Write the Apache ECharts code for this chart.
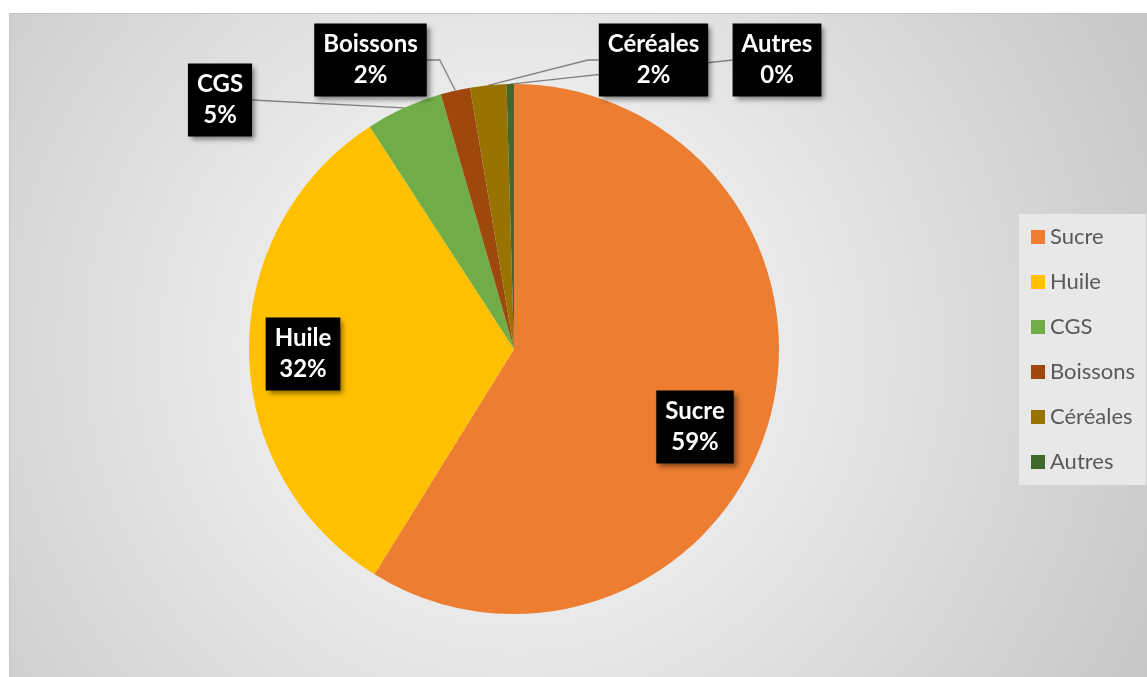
<!DOCTYPE html>
<html>
<head>
<meta charset="utf-8">
<script src="https://cdn.jsdelivr.net/npm/echarts@6/dist/echarts.min.js"></script>
<style>
  html, body { margin: 0; padding: 0; background: #ffffff; }
  #chart { width: 1147px; height: 677px; }
</style>
</head>
<body>
<div id="chart"></div>
<script>
// Répartition par filière (parts en %)
const categories = ['Sucre', 'Huile', 'CGS', 'Boissons', 'Céréales', 'Autres'];
const shares = [58.8, 32.0, 4.7, 1.8, 2.2, 0.45];
const colors = ['#ED7D31', '#FFC000', '#70AD47', '#9E480E', '#997300', '#43682B'];

// Callout placement: box centre, whether it sits on the slice, and the
// horizontal elbow length of the leader line next to the box
const calloutPlacement = {
  'Sucre':    { cx: 695,   cy: 427, inside: true },
  'Huile':    { cx: 303,   cy: 354, inside: true },
  'CGS':      { cx: 220,   cy: 100, elbow: 0 },
  'Boissons': { cx: 370.5, cy: 60,  elbow: 13 },
  'Céréales': { cx: 653.5, cy: 60,  elbow: 11 },
  'Autres':   { cx: 777,   cy: 60,  elbow: 0 }
};

const chart = echarts.init(document.getElementById('chart'), null, { renderer: 'canvas' });

const pieData = categories.map(function (name, i) {
  const item = { name: name, value: shares[i], itemStyle: { color: colors[i] } };
  if (calloutPlacement[name].inside) {
    item.label = { position: 'inside' };
    item.labelLine = { show: false };
  }
  return item;
});

chart.setOption({
  animation: false,
  backgroundColor: '#ffffff',
  graphic: [{
    type: 'rect',
    z: 0,
    silent: true,
    shape: { x: 9.5, y: 13.5, width: 1150, height: 680 },
    style: {
      fill: {
        type: 'radial', x: 514, y: 349, r: 720, global: true,
        colorStops: [
          { offset: 0, color: '#ffffff' },
          { offset: 1, color: '#c6c6c6' }
        ]
      },
      stroke: '#c4c4c4',
      lineWidth: 1
    }
  }],
  legend: {
    orient: 'vertical',
    left: 1019,
    top: 214,
    padding: [11, 11, 11, 12],
    backgroundColor: '#e8e8e8',
    itemWidth: 14,
    itemHeight: 14,
    itemGap: 21,
    icon: 'rect',
    selectedMode: false,
    textStyle: { fontFamily: 'Lato', fontSize: 22, lineHeight: 24, color: '#595959' }
  },
  series: [{
    type: 'pie',
    center: [514, 349],
    radius: 265,
    startAngle: 90,
    clockwise: true,
    avoidLabelOverlap: false,
    silent: true,
    data: pieData,
    label: {
      show: true,
      position: 'outside',
      formatter: function (p) { return p.name + '\n' + Math.round(p.percent) + '%'; },
      color: '#ffffff',
      fontFamily: 'Lato',
      fontWeight: 'bold',
      fontSize: 24,
      lineHeight: 31,
      align: 'center',
      backgroundColor: '#000000',
      padding: [6, 9, 5, 9],
      shadowColor: 'rgba(0,0,0,0.45)',
      shadowBlur: 5,
      shadowOffsetX: 3,
      shadowOffsetY: 3
    },
    labelLine: {
      show: true,
      length: 20,
      length2: 10,
      lineStyle: { color: '#808080', width: 1.3 }
    },
    labelLayout: function (p) {
      const c = calloutPlacement[categories[p.dataIndex]];
      const out = { x: c.cx, y: c.cy, align: 'center', verticalAlign: 'middle' };
      if (!c.inside && p.labelLinePoints) {
        const start = p.labelLinePoints[0];
        const halfW = p.labelRect.width / 2;
        const toLeft = c.cx < start[0];
        const endX = toLeft ? c.cx + halfW : c.cx - halfW;
        const midX = toLeft ? endX + c.elbow : endX - c.elbow;
        out.labelLinePoints = [start, [midX, c.cy], [endX, c.cy]];
      }
      return out;
    }
  }]
});
</script>
</body>
</html>
